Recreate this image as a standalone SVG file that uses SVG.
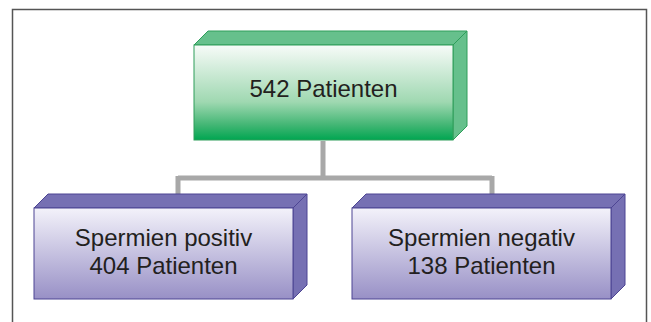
<svg xmlns="http://www.w3.org/2000/svg" width="651" height="322" viewBox="0 0 651 322">
<defs>
<linearGradient id="gGreen" x1="0" y1="0" x2="0" y2="1">
<stop offset="0" stop-color="#f7fbf8"/>
<stop offset="0.6" stop-color="#9fd8b1"/>
<stop offset="0.85" stop-color="#3fb572"/>
<stop offset="1" stop-color="#00a651"/>
</linearGradient>
<linearGradient id="gPurple" x1="0" y1="0" x2="0" y2="1">
<stop offset="0" stop-color="#f3f2fa"/>
<stop offset="1" stop-color="#9890c6"/>
</linearGradient>
<style>
.txt{font-family:"Liberation Sans",Arial,sans-serif;font-size:24px;fill:#231f20;text-anchor:middle}
.gside{fill:#66c08c;stroke:#2e9e5a;stroke-width:1}
.gfront{fill:url(#gGreen);stroke:#2e9e5a;stroke-width:1}
.pside{fill:#7670b3;stroke:#4d4593;stroke-width:1}
.pfront{fill:url(#gPurple);stroke:#4d4593;stroke-width:1}
.conn{fill:none;stroke:#a8a8a8;stroke-width:5}
</style>
</defs>
<rect x="0" y="0" width="651" height="322" fill="#ffffff"/>
<path d="M12.5 322 V9.5 H646.5 V322" fill="none" stroke="#555555" stroke-width="1.5"/>
<g id="connectors">
<path class="conn" d="M323 141 V178 M178 178 H492 M178 176 V195 M492 176 V195"/>
</g>
<g id="node-total">
<polygon class="gside" points="194,45 208,31 467,31 453,45"/>
<polygon class="gside" points="453,45 467,31 467,126 453,140"/>
<rect class="gfront" x="194" y="45" width="259" height="95"/>
<text class="txt" x="323.5" y="97">542 Patienten</text>
</g>
<g id="node-positive">
<polygon class="pside" points="34,208 48,194 307,194 293,208"/>
<polygon class="pside" points="293,208 307,194 307,285 293,299"/>
<rect class="pfront" x="34" y="208" width="259" height="91"/>
<text class="txt" x="163.5" y="246">Spermien positiv</text>
<text class="txt" x="163.5" y="274">404 Patienten</text>
</g>
<g id="node-negative">
<polygon class="pside" points="352,208 366,194 625,194 611,208"/>
<polygon class="pside" points="611,208 625,194 625,285 611,299"/>
<rect class="pfront" x="352" y="208" width="259" height="91"/>
<text class="txt" x="481.5" y="246">Spermien negativ</text>
<text class="txt" x="481.5" y="274">138 Patienten</text>
</g>
</svg>
